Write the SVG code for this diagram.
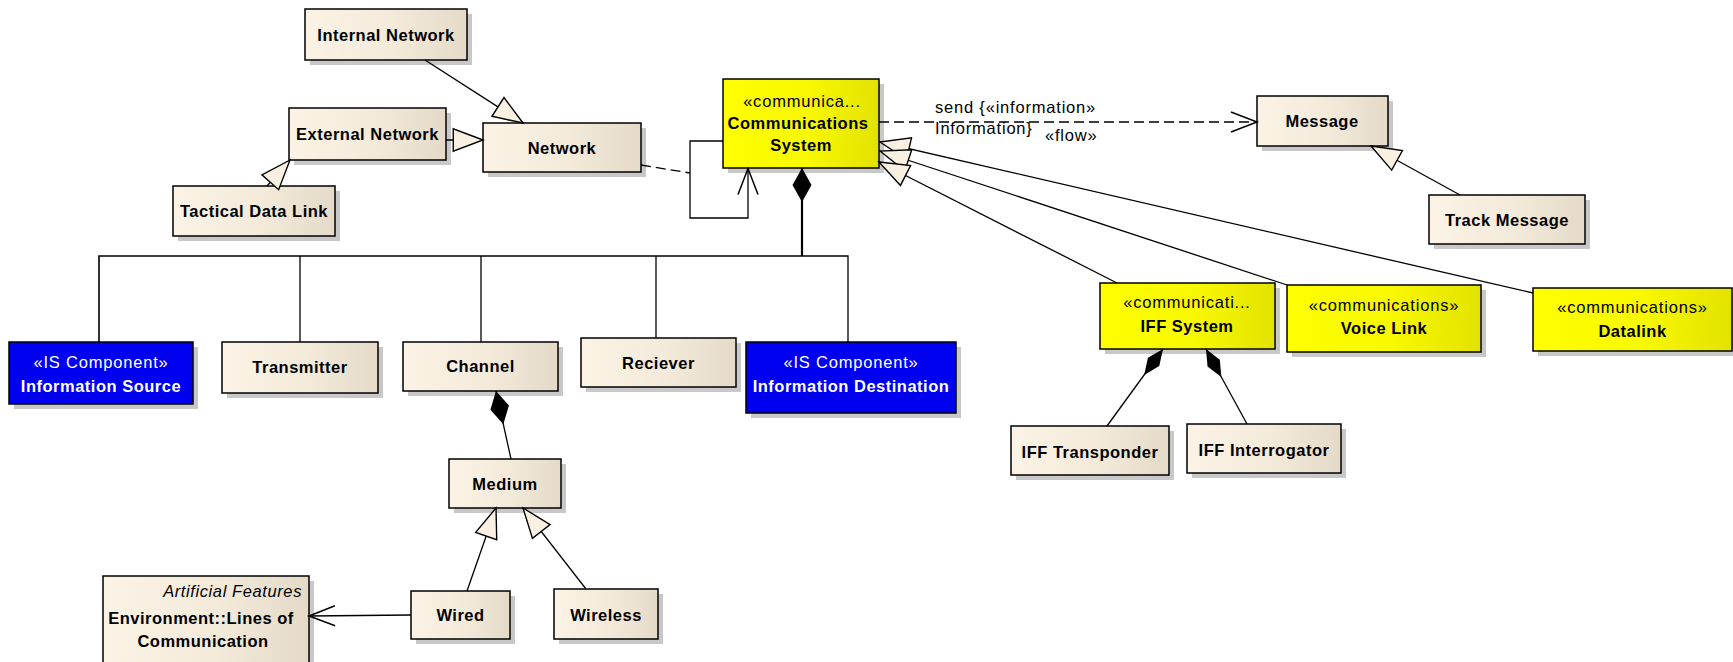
<svg xmlns="http://www.w3.org/2000/svg" width="1733" height="662" viewBox="0 0 1733 662">
  <defs>
    <linearGradient id="gCream" x1="0" y1="0" x2="1" y2="0">
      <stop offset="0" stop-color="#FBF3E5"/>
      <stop offset="0.55" stop-color="#F3EADA"/>
      <stop offset="1" stop-color="#E5DAC8"/>
    </linearGradient>
    <linearGradient id="gYellow" x1="0" y1="0" x2="1" y2="0">
      <stop offset="0" stop-color="#FFFF00"/>
      <stop offset="0.55" stop-color="#F8F800"/>
      <stop offset="1" stop-color="#E2E200"/>
    </linearGradient>
    <!-- hollow generalization head -->
    <marker id="gen" markerUnits="userSpaceOnUse" markerWidth="34" markerHeight="26" viewBox="-30 -12 32 24" refX="0" refY="0" orient="auto" overflow="visible">
      <path d="M0,0 L-28,-10.5 L-28,10.5 Z" fill="#FAF0E1" stroke="#000" stroke-width="1.3" stroke-linejoin="miter"/>
    </marker>
    <!-- composition diamonds -->
    <marker id="comp" markerUnits="userSpaceOnUse" markerWidth="36" markerHeight="20" viewBox="-1 -10 36 20" refX="0" refY="0" orient="auto" overflow="visible">
      <path d="M0,0 L17,-9.5 L34,0 L17,9.5 Z" fill="#000"/>
    </marker>
    <marker id="compS" markerUnits="userSpaceOnUse" markerWidth="34" markerHeight="16" viewBox="-1 -8 34 16" refX="0" refY="0" orient="auto" overflow="visible">
      <path d="M0,0 L16,-7 L32,0 L16,7 Z" fill="#000"/>
    </marker>
    <!-- open navigation arrow -->
    <marker id="open" markerUnits="userSpaceOnUse" markerWidth="30" markerHeight="24" viewBox="-28 -12 30 24" refX="0" refY="0" orient="auto" overflow="visible">
      <path d="M-26,-10 L0,0 L-26,10" fill="none" stroke="#000" stroke-width="1.5"/>
    </marker>
    <style>
      .sh { fill: #C8C8C8; }
      .cream { fill: url(#gCream); stroke: #000; stroke-width: 1.5; }
      .yellow { fill: url(#gYellow); stroke: #000; stroke-width: 1.5; }
      .blue { fill: #0000F0; stroke: #000; stroke-width: 1.5; }
      text { font-family: "Liberation Sans", Arial, sans-serif; font-size: 16.5px; text-anchor: middle; fill: #000; }
      .b { font-weight: bold; letter-spacing: 0.5px; }
      .r { font-weight: normal; letter-spacing: 0.8px; }
      .w { fill: #FFFFFF; }
      .it { font-style: italic; letter-spacing: 0.6px; text-anchor: end; }
      .lbl { text-anchor: start; letter-spacing: 0.8px; }
      .ln { fill: none; stroke: #000; stroke-width: 1.3; }
      .dash { fill: none; stroke: #000; stroke-width: 1.3; stroke-dasharray: 10 5; }
      .bus { fill: none; stroke: #000; stroke-width: 1.6; }
      .thick { fill: none; stroke: #000; stroke-width: 2.2; }
    </style>
  </defs>

  <rect width="1733" height="662" fill="#FFFFFF"/>

  <!-- classes -->
  <g id="internal-network">
    <rect class="sh" x="310" y="14" width="162" height="51"/>
    <rect class="cream" x="305" y="9" width="162" height="51"/>
    <text class="b" x="386" y="41">Internal Network</text>
  </g>
  <g id="external-network">
    <rect class="sh" x="294" y="113" width="157" height="52"/>
    <rect class="cream" x="289" y="108" width="157" height="52"/>
    <text class="b" x="367.5" y="140">External Network</text>
  </g>
  <g id="network">
    <rect class="sh" x="488" y="128" width="158" height="49"/>
    <rect class="cream" x="483" y="123" width="158" height="49"/>
    <text class="b" x="562" y="154">Network</text>
  </g>
  <g id="tactical-data-link">
    <rect class="sh" x="178" y="191" width="162" height="50"/>
    <rect class="cream" x="173" y="186" width="162" height="50"/>
    <text class="b" x="254" y="217">Tactical Data Link</text>
  </g>
  <g id="communications-system">
    <rect class="sh" x="728" y="84" width="156" height="89"/>
    <rect class="yellow" x="723" y="79" width="156" height="89"/>
    <text class="r" x="802" y="107">«communica...</text>
    <text class="b" x="798" y="129">Communications</text>
    <text class="b" x="801" y="151">System</text>
  </g>
  <g id="message">
    <rect class="sh" x="1262" y="101" width="131" height="50"/>
    <rect class="cream" x="1257" y="96" width="131" height="50"/>
    <text class="b" x="1322" y="127">Message</text>
  </g>
  <g id="track-message">
    <rect class="sh" x="1434" y="200" width="156" height="49"/>
    <rect class="cream" x="1429" y="195" width="156" height="49"/>
    <text class="b" x="1507" y="226">Track Message</text>
  </g>
  <g id="iff-system">
    <rect class="sh" x="1105" y="288" width="175" height="66"/>
    <rect class="yellow" x="1100" y="283" width="175" height="66"/>
    <text class="r" x="1187" y="308">«communicati...</text>
    <text class="b" x="1187" y="332">IFF System</text>
  </g>
  <g id="voice-link">
    <rect class="sh" x="1292" y="290" width="194" height="67"/>
    <rect class="yellow" x="1287" y="285" width="194" height="67"/>
    <text class="r" x="1384" y="311">«communications»</text>
    <text class="b" x="1384" y="334">Voice Link</text>
  </g>
  <g id="datalink">
    <rect class="sh" x="1538" y="293" width="199" height="63"/>
    <rect class="yellow" x="1533" y="288" width="199" height="63"/>
    <text class="r" x="1632.5" y="313">«communications»</text>
    <text class="b" x="1632.5" y="337">Datalink</text>
  </g>
  <g id="information-source">
    <rect class="sh" x="14" y="347" width="184" height="62"/>
    <rect class="blue" x="9" y="342" width="184" height="62"/>
    <text class="r w" x="101" y="368">«IS Component»</text>
    <text class="b w" x="101" y="392">Information Source</text>
  </g>
  <g id="transmitter">
    <rect class="sh" x="227" y="347" width="156" height="51"/>
    <rect class="cream" x="222" y="342" width="156" height="51"/>
    <text class="b" x="300" y="373">Transmitter</text>
  </g>
  <g id="channel">
    <rect class="sh" x="408" y="347" width="155" height="49"/>
    <rect class="cream" x="403" y="342" width="155" height="49"/>
    <text class="b" x="480.5" y="372">Channel</text>
  </g>
  <g id="reciever">
    <rect class="sh" x="586" y="343" width="155" height="49"/>
    <rect class="cream" x="581" y="338" width="155" height="49"/>
    <text class="b" x="658.5" y="369">Reciever</text>
  </g>
  <g id="information-destination">
    <rect class="sh" x="751" y="347" width="210" height="71"/>
    <rect class="blue" x="746" y="342" width="210" height="71"/>
    <text class="r w" x="851" y="368">«IS Component»</text>
    <text class="b w" x="851" y="392">Information Destination</text>
  </g>
  <g id="iff-transponder">
    <rect class="sh" x="1016" y="431" width="158" height="49"/>
    <rect class="cream" x="1011" y="426" width="158" height="49"/>
    <text class="b" x="1090" y="458">IFF Transponder</text>
  </g>
  <g id="iff-interrogator">
    <rect class="sh" x="1192" y="429" width="154" height="49"/>
    <rect class="cream" x="1187" y="424" width="154" height="49"/>
    <text class="b" x="1264" y="456">IFF Interrogator</text>
  </g>
  <g id="medium">
    <rect class="sh" x="454" y="464" width="112" height="49"/>
    <rect class="cream" x="449" y="459" width="112" height="49"/>
    <text class="b" x="505" y="490">Medium</text>
  </g>
  <g id="wired">
    <rect class="sh" x="416" y="596" width="99" height="48"/>
    <rect class="cream" x="411" y="591" width="99" height="48"/>
    <text class="b" x="460.5" y="621">Wired</text>
  </g>
  <g id="wireless">
    <rect class="sh" x="559" y="594" width="104" height="50"/>
    <rect class="cream" x="554" y="589" width="104" height="50"/>
    <text class="b" x="606" y="621">Wireless</text>
  </g>
  <g id="lines-of-communication">
    <rect class="sh" x="108" y="581" width="206" height="100"/>
    <rect class="cream" x="103" y="576" width="206" height="100"/>
    <text class="r it" x="302" y="597">Artificial Features</text>
    <text class="b" x="201" y="624">Environment::Lines of</text>
    <text class="b" x="203" y="647">Communication</text>
  </g>

  <!-- relationships -->
  <g id="connectors">
    <!-- generalizations -->
    <line class="ln" x1="425" y1="60" x2="523" y2="123" marker-end="url(#gen)"/>
    <line class="ln" x1="446" y1="140" x2="483" y2="140" marker-end="url(#gen)"/>
    <line class="ln" x1="267" y1="186" x2="290" y2="160" marker-end="url(#gen)"/>
    <line class="ln" x1="1460" y1="195" x2="1371" y2="146" marker-end="url(#gen)"/>
    <line class="ln" x1="1533" y1="293" x2="880" y2="142" marker-end="url(#gen)"/>
    <line class="ln" x1="1287" y1="285" x2="880" y2="151" marker-end="url(#gen)"/>
    <line class="ln" x1="1117" y1="283" x2="879" y2="162" marker-end="url(#gen)"/>
    <line class="ln" x1="467" y1="591" x2="496" y2="508" marker-end="url(#gen)"/>
    <line class="ln" x1="586" y1="589" x2="523" y2="508" marker-end="url(#gen)"/>

    <!-- self association and its attached link -->
    <path class="ln" d="M723,141 H690 V218 H748 V168.5" marker-end="url(#open)"/>
    <line class="dash" x1="641" y1="165" x2="690" y2="173"/>

    <!-- information flow -->
    <path class="dash" d="M879,122 H1257" marker-end="url(#open)"/>
    <text class="lbl" x="935" y="113">send {«information»</text>
    <text class="lbl" x="935" y="134">Information}</text>
    <text class="lbl" x="1045" y="141">«flow»</text>

    <!-- composition tree -->
    <path class="thick" d="M802,168 V256" marker-start="url(#comp)"/>
    <path class="bus" d="M99,342 V256 H802"/>
    <path class="ln" d="M802,256 H848 V342"/>
    <line class="ln" x1="300" y1="256" x2="300" y2="342"/>
    <line class="ln" x1="481" y1="256" x2="481" y2="342"/>
    <line class="ln" x1="656" y1="256" x2="656" y2="338"/>

    <path class="ln" d="M496,391 L511,459" marker-start="url(#comp)"/>
    <path class="ln" d="M1163,349 L1107,426" marker-start="url(#compS)"/>
    <path class="ln" d="M1206,349 L1247,424" marker-start="url(#compS)"/>

    <!-- directed association -->
    <path class="ln" d="M411,615 L309,616" marker-end="url(#open)"/>
  </g>
</svg>
